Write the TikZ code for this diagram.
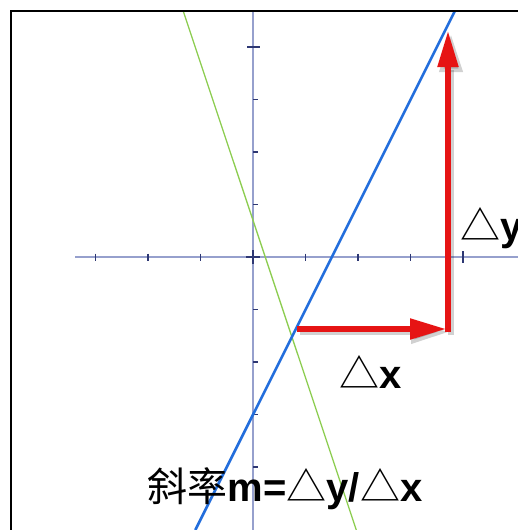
\documentclass[tikz,border=0pt]{standalone}
\usepackage{fontspec}
\setmainfont{Liberation Sans}
\newfontfamily\cjk{Noto Sans CJK SC}
\usetikzlibrary{arrows.meta}
\definecolor{axiscol}{RGB}{150,160,205}
\definecolor{tickcol}{RGB}{45,55,115}
\definecolor{blueline}{RGB}{35,110,220}
\definecolor{greenline}{RGB}{140,205,80}
\definecolor{redarrow}{RGB}{230,20,20}
\begin{document}
\begin{tikzpicture}[x=0.5pt,y=-0.5pt,
  axisline/.style={draw=axiscol,line width=1.3pt},
  tickmark/.style={draw=tickcol,line width=0.6pt},
  redarr/.style={draw=redarrow,line width=2.6pt,-{Triangle[length=18pt,width=10pt]}},
  shadowarr/.style={draw=black,opacity=0.18,line width=3.4pt,-{Triangle[length=19pt,width=11pt]}},
  lbl/.style={inner sep=0pt,font=\fontsize{20}{22}\selectfont\bfseries}]
\useasboundingbox (0,0) rectangle (518,530);
\begin{scope}
  \clip (11,11) rectangle (518,530);
  % axes
  \draw[axisline] (253,11) -- (253,530);
  \draw[axisline] (75,257) -- (518,257);
  \foreach \k in {-3,-2,-1,1,2,3}
    \draw[tickmark] ({253+52.5*\k},253.5) -- ({253+52.5*\k},260.5);
  \draw[tickmark] ({253+52.5*4},251) -- ({253+52.5*4},263);
  \foreach \k in {-4,-3,-2,-1,1,2,3}
    \draw[tickmark] (253,{257-52.5*\k}) -- (258,{257-52.5*\k});
  \draw[tickmark] (247,47) -- (260,47);
  \draw[tickmark,line width=0.9pt] (246,257) -- (260,257) (253,250) -- (253,264);
  % lines
  \draw[greenline,line width=0.65pt] (183.2,11) -- (356.3,530);
  \draw[blueline,line width=1.3pt] (454.9,11) -- (195.3,530);
\end{scope}
\draw[line width=1.25pt] (11,530) -- (11,11) -- (518,11);
% red arrows
\coordinate (dxs) at (297,329);
\coordinate (dxe) at (446,329);
\coordinate (dys) at (448,332);
\coordinate (dye) at (448,31);
\coordinate (dxs2) at (300,332);
\coordinate (dxe2) at (449,332);
\coordinate (dys2) at (451,335);
\coordinate (dye2) at (451,34);
\draw[shadowarr] (dxs2) -- (dxe2);
\draw[shadowarr] (dys2) -- (dye2);
\draw[redarr] (dxs) -- (dxe);
\draw[redarr] (dys) -- (dye);
% labels
\node[lbl,anchor=west] (dy) at (460,228) {{\cjk\mdseries △}y};
\node[lbl] (dx) at (371,372) {{\cjk\mdseries △}x};
\node[lbl] (slope) at (285,489) {{\cjk\mdseries 斜率}m={\cjk\mdseries △}y/{\cjk\mdseries △}x};
\end{tikzpicture}
\end{document}
